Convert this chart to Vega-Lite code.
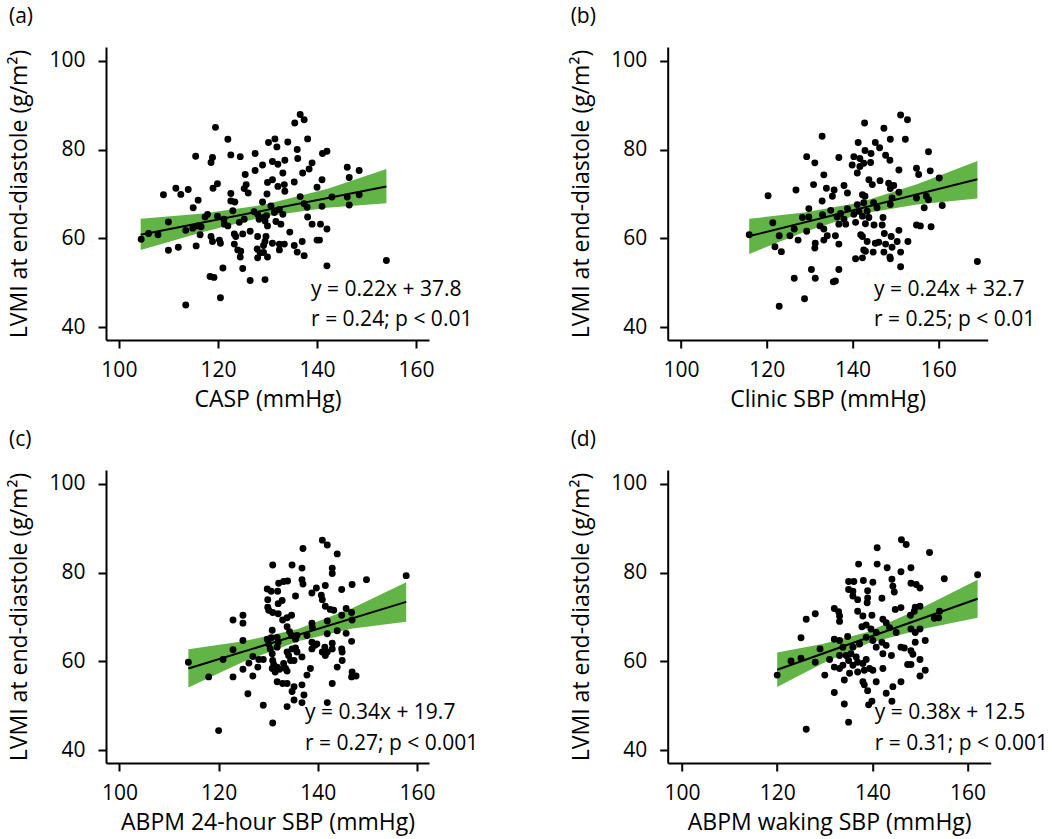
{
"$schema": "https://vega.github.io/schema/vega-lite/v6.json",
"background": "white",
"padding": {"left": 8, "top": 6, "right": 5, "bottom": 2},
"config": {
 "font": "Open Sans",
 "view": {"stroke": null},
 "axis": {"grid": false, "domainColor": "black", "domainWidth": 2, "tickColor": "black", "tickWidth": 2, "tickSize": 8, "labelFontSize": 21, "labelColor": "black", "labelFont": "Open Sans", "labelFlush": false, "labelOverlap": false, "titleFontSize": 23, "titleFontWeight": "normal", "titleColor": "black", "titleFont": "Open Sans"},
 "axisX": {"labelPadding": 11, "titlePadding": 8},
 "axisY": {"labelPadding": 13, "titlePadding": 17},
 "title": {"fontSize": 21, "fontWeight": "normal", "color": "black", "anchor": "start", "frame": "bounds", "offset": 20, "font": "Open Sans"}
},
"datasets": {
 "a_pts": [
{"x":119.5,"y":85.0},{"x":122.0,"y":82.3},{"x":130.2,"y":81.6},{"x":115.5,"y":78.5},{"x":118.9,"y":78.2},{"x":118.6,"y":77.1},{"x":122.6,"y":78.8},{"x":124.5,"y":78.4},{"x":127.5,"y":79.1},{"x":129.0,"y":76.5},{"x":127.5,"y":75.3},{"x":125.5,"y":74.4},{"x":130.0,"y":72.6},{"x":119.9,"y":72.3},{"x":119.0,"y":71.3},{"x":125.7,"y":72.1},{"x":125.3,"y":71.2},{"x":122.6,"y":70.1},{"x":111.5,"y":71.3},{"x":112.5,"y":69.9},{"x":114.0,"y":71.0},{"x":109.0,"y":69.8},{"x":116.0,"y":68.6},{"x":115.0,"y":66.9},{"x":122.6,"y":68.4},{"x":123.4,"y":68.2},{"x":129.0,"y":68.2},{"x":117.9,"y":65.4},{"x":117.4,"y":64.8},{"x":119.9,"y":65.0},{"x":123.0,"y":66.2},{"x":121.2,"y":64.3},{"x":121.3,"y":63.2},{"x":122.0,"y":62.8},{"x":125.3,"y":64.3},{"x":124.3,"y":63.6},{"x":110.0,"y":63.7},{"x":116.6,"y":62.6},{"x":115.9,"y":62.8},{"x":114.9,"y":62.3},{"x":113.5,"y":61.8},{"x":106.0,"y":61.1},{"x":107.9,"y":60.8},{"x":104.5,"y":59.8},{"x":116.4,"y":60.8},{"x":118.6,"y":60.4},{"x":118.9,"y":59.3},{"x":120.3,"y":59.6},{"x":120.5,"y":58.9},{"x":123.3,"y":61.0},{"x":123.6,"y":60.4},{"x":125.0,"y":61.0},{"x":126.5,"y":61.6},{"x":128.0,"y":60.4},{"x":129.7,"y":60.4},{"x":123.3,"y":58.7},{"x":129.5,"y":59.3},{"x":129.2,"y":58.4},{"x":124.0,"y":57.4},{"x":124.6,"y":57.1},{"x":127.9,"y":57.6},{"x":128.5,"y":56.7},{"x":129.2,"y":56.8},{"x":124.5,"y":55.8},{"x":128.0,"y":55.6},{"x":130.0,"y":55.8},{"x":110.0,"y":57.3},{"x":112.0,"y":58.0},{"x":115.6,"y":58.3},{"x":125.0,"y":53.2},{"x":121.0,"y":53.3},{"x":118.4,"y":51.4},{"x":119.2,"y":51.2},{"x":126.5,"y":50.5},{"x":129.5,"y":50.7},{"x":120.5,"y":46.6},{"x":113.5,"y":45.0},{"x":127.3,"y":66.0},{"x":128.0,"y":65.4},{"x":128.3,"y":64.3},{"x":129.2,"y":64.7},{"x":129.8,"y":65.1},{"x":130.0,"y":62.8},{"x":129.5,"y":63.9},{"x":126.1,"y":70.2},{"x":129.9,"y":70.0},
{"x":136.6,"y":87.9},{"x":137.4,"y":86.7},{"x":135.5,"y":86.0},{"x":131.5,"y":82.4},{"x":131.9,"y":80.6},{"x":134.1,"y":81.7},{"x":136.0,"y":80.0},{"x":138.1,"y":82.4},{"x":131.0,"y":77.3},{"x":132.1,"y":76.7},{"x":133.5,"y":77.6},{"x":136.1,"y":78.0},{"x":141.1,"y":79.1},{"x":142.0,"y":79.6},{"x":139.0,"y":77.0},{"x":138.4,"y":75.6},{"x":137.1,"y":74.7},{"x":133.1,"y":74.7},{"x":146.1,"y":76.0},{"x":148.5,"y":75.3},{"x":146.5,"y":73.7},{"x":141.0,"y":73.2},{"x":135.4,"y":72.7},{"x":131.0,"y":73.2},{"x":132.1,"y":71.7},{"x":133.4,"y":72.1},{"x":133.5,"y":70.6},{"x":140.0,"y":71.5},{"x":136.6,"y":69.4},{"x":143.0,"y":69.3},{"x":146.1,"y":69.3},{"x":148.5,"y":69.8},{"x":146.5,"y":67.5},{"x":141.0,"y":67.2},{"x":137.4,"y":67.8},{"x":138.0,"y":67.0},{"x":130.7,"y":67.3},{"x":131.4,"y":65.8},{"x":132.4,"y":66.5},{"x":133.1,"y":65.4},{"x":132.7,"y":63.2},{"x":131.7,"y":63.8},{"x":138.1,"y":64.8},{"x":139.0,"y":63.2},{"x":140.7,"y":63.2},{"x":142.0,"y":62.1},{"x":134.5,"y":61.4},{"x":131.0,"y":58.9},{"x":132.4,"y":58.7},{"x":133.4,"y":58.7},{"x":135.4,"y":58.4},{"x":137.0,"y":59.3},{"x":140.0,"y":59.6},{"x":140.5,"y":59.6},{"x":132.4,"y":57.4},{"x":136.0,"y":56.9},{"x":137.4,"y":56.1},{"x":142.0,"y":53.8},{"x":154.0,"y":55.0}
 ],
 "a_fit": [{"x":104.4,"y":60.8},{"x":154.0,"y":71.7}],
 "a_band": [{"x":104.4,"lo":57.4,"hi":64.4},{"x":117.0,"lo":61.4,"hi":65.6},{"x":129.5,"lo":64.9,"hi":67.6},{"x":142.0,"lo":66.9,"hi":71.1},{"x":154.0,"lo":67.9,"hi":75.6}],
 "b_pts": [
{"x":132.9,"y":83.0},{"x":129.3,"y":78.4},{"x":131.2,"y":77.0},{"x":133.3,"y":74.3},{"x":130.9,"y":72.1},{"x":133.9,"y":71.3},{"x":120.3,"y":69.6},{"x":126.8,"y":70.9},{"x":132.9,"y":68.4},{"x":129.8,"y":66.7},{"x":121.4,"y":63.5},{"x":128.3,"y":64.7},{"x":129.8,"y":64.8},{"x":133.0,"y":65.3},{"x":132.4,"y":62.8},{"x":133.3,"y":62.1},{"x":126.4,"y":62.1},{"x":125.4,"y":60.6},{"x":127.3,"y":59.6},{"x":129.3,"y":61.6},{"x":122.9,"y":60.6},{"x":115.9,"y":60.8},{"x":121.9,"y":58.1},{"x":123.4,"y":57.0},{"x":131.3,"y":58.9},{"x":131.2,"y":57.8},{"x":133.3,"y":59.6},{"x":130.4,"y":53.0},{"x":131.3,"y":51.0},{"x":126.4,"y":51.0},{"x":128.8,"y":46.4},{"x":122.9,"y":44.7},
{"x":151.2,"y":87.8},{"x":152.8,"y":86.7},{"x":142.8,"y":86.0},{"x":147.3,"y":84.8},{"x":141.3,"y":81.6},{"x":145.3,"y":81.6},{"x":146.3,"y":80.4},{"x":148.8,"y":82.3},{"x":152.3,"y":82.3},{"x":142.9,"y":79.8},{"x":144.3,"y":79.1},{"x":147.7,"y":78.7},{"x":148.7,"y":77.6},{"x":157.7,"y":79.5},{"x":136.8,"y":78.2},{"x":140.3,"y":78.4},{"x":141.7,"y":78.0},{"x":144.2,"y":77.1},{"x":139.9,"y":76.5},{"x":141.7,"y":76.2},{"x":141.1,"y":74.7},{"x":142.6,"y":76.9},{"x":150.8,"y":75.4},{"x":154.9,"y":75.8},{"x":155.4,"y":74.4},{"x":158.1,"y":75.2},{"x":160.2,"y":73.6},{"x":143.8,"y":73.2},{"x":144.6,"y":72.1},{"x":146.4,"y":73.0},{"x":148.4,"y":72.4},{"x":149.6,"y":71.9},{"x":148.8,"y":71.2},{"x":135.7,"y":70.9},{"x":135.3,"y":69.5},{"x":138.0,"y":71.9},{"x":138.8,"y":70.2},{"x":142.3,"y":69.8},{"x":142.9,"y":69.5},{"x":150.8,"y":70.4},{"x":149.2,"y":69.1},{"x":154.9,"y":69.1},{"x":157.2,"y":69.5},{"x":157.7,"y":68.7},{"x":160.9,"y":67.4},{"x":156.7,"y":66.9},{"x":134.9,"y":66.3},{"x":137.2,"y":65.6},{"x":138.8,"y":66.7},{"x":136.4,"y":64.8},{"x":138.0,"y":64.3},{"x":141.1,"y":67.6},{"x":142.6,"y":68.0},{"x":144.9,"y":68.0},{"x":145.7,"y":66.9},{"x":148.8,"y":67.6},{"x":143.4,"y":66.1},{"x":141.5,"y":66.1},{"x":140.3,"y":65.4},{"x":142.3,"y":65.0},{"x":143.8,"y":64.7},{"x":140.7,"y":63.6},{"x":143.0,"y":63.3},{"x":147.1,"y":64.7},{"x":145.0,"y":63.0},{"x":146.9,"y":63.0},{"x":136.8,"y":63.2},{"x":138.4,"y":63.2},{"x":134.1,"y":60.6},{"x":136.0,"y":60.6},{"x":136.8,"y":58.7},{"x":141.9,"y":60.8},{"x":142.3,"y":60.4},{"x":143.4,"y":59.3},{"x":145.3,"y":58.9},{"x":146.1,"y":59.1},{"x":147.4,"y":61.1},{"x":150.8,"y":61.8},{"x":149.0,"y":60.4},{"x":147.7,"y":58.7},{"x":150.4,"y":59.3},{"x":152.9,"y":59.3},{"x":155.8,"y":62.8},{"x":154.9,"y":63.0},{"x":158.3,"y":62.6},{"x":142.6,"y":57.4},{"x":143.0,"y":57.1},{"x":144.8,"y":56.9},{"x":147.3,"y":56.9},{"x":149.2,"y":58.0},{"x":148.7,"y":55.8},{"x":151.2,"y":56.9},{"x":140.7,"y":55.4},{"x":142.3,"y":55.6},{"x":148.8,"y":55.4},{"x":151.2,"y":53.6},{"x":169.1,"y":54.8},{"x":136.8,"y":53.0},{"x":136.0,"y":50.4},{"x":135.5,"y":50.2}
 ],
 "b_fit": [{"x":115.9,"y":60.5},{"x":169.1,"y":73.3}],
 "b_band": [{"x":115.9,"lo":56.5,"hi":64.4},{"x":128.7,"lo":61.4,"hi":65.8},{"x":141.5,"lo":65.4,"hi":68.0},{"x":155.0,"lo":67.6,"hi":72.2},{"x":169.1,"lo":69.0,"hi":77.4}],
 "c_pts": [
{"x":130.9,"y":81.7},{"x":134.8,"y":81.7},{"x":132.1,"y":77.6},{"x":133.1,"y":78.0},{"x":133.9,"y":78.1},{"x":129.8,"y":76.3},{"x":130.6,"y":75.8},{"x":131.9,"y":75.8},{"x":129.9,"y":73.9},{"x":132.0,"y":73.0},{"x":132.8,"y":73.7},{"x":129.9,"y":72.2},{"x":130.1,"y":71.5},{"x":130.9,"y":71.0},{"x":132.0,"y":70.7},{"x":133.8,"y":69.8},{"x":134.7,"y":70.4},{"x":132.9,"y":69.3},{"x":122.9,"y":69.3},{"x":124.9,"y":70.4},{"x":124.9,"y":68.6},{"x":130.8,"y":67.0},{"x":133.8,"y":67.8},{"x":134.3,"y":66.7},{"x":134.7,"y":65.8},{"x":129.8,"y":65.0},{"x":130.6,"y":65.3},{"x":131.8,"y":65.4},{"x":130.1,"y":63.9},{"x":132.0,"y":64.3},{"x":130.4,"y":62.8},{"x":131.8,"y":63.2},{"x":124.9,"y":64.7},{"x":122.9,"y":62.6},{"x":120.9,"y":60.4},{"x":113.9,"y":59.8},{"x":126.9,"y":61.1},{"x":126.1,"y":59.6},{"x":128.1,"y":60.4},{"x":129.0,"y":60.4},{"x":127.9,"y":58.7},{"x":126.9,"y":56.7},{"x":124.9,"y":58.2},{"x":122.9,"y":56.5},{"x":118.0,"y":56.5},{"x":130.8,"y":61.7},{"x":130.9,"y":60.2},{"x":131.1,"y":59.3},{"x":131.8,"y":58.7},{"x":130.8,"y":58.4},{"x":132.3,"y":58.2},{"x":131.4,"y":57.6},{"x":133.1,"y":59.5},{"x":133.5,"y":58.4},{"x":133.8,"y":57.8},{"x":134.5,"y":60.2},{"x":134.1,"y":61.3},{"x":133.8,"y":62.1},{"x":134.8,"y":62.8},{"x":131.8,"y":55.4},{"x":132.9,"y":55.0},{"x":133.8,"y":55.0},{"x":125.9,"y":52.7},{"x":129.0,"y":50.1},{"x":133.8,"y":49.8},{"x":130.9,"y":46.1},{"x":120.0,"y":44.4},
{"x":140.9,"y":87.3},{"x":141.9,"y":86.2},{"x":137.0,"y":85.4},{"x":143.9,"y":84.2},{"x":136.8,"y":81.0},{"x":142.9,"y":81.0},{"x":142.9,"y":79.8},{"x":136.8,"y":78.4},{"x":137.0,"y":77.4},{"x":149.8,"y":78.4},{"x":146.9,"y":77.3},{"x":144.8,"y":76.2},{"x":141.5,"y":77.1},{"x":139.7,"y":76.5},{"x":138.8,"y":75.4},{"x":135.5,"y":74.7},{"x":157.8,"y":79.3},{"x":140.7,"y":74.9},{"x":140.9,"y":73.9},{"x":141.5,"y":72.4},{"x":142.5,"y":71.7},{"x":143.2,"y":71.5},{"x":145.7,"y":71.9},{"x":146.8,"y":71.0},{"x":146.9,"y":69.3},{"x":144.8,"y":70.4},{"x":138.8,"y":68.6},{"x":138.9,"y":67.6},{"x":141.9,"y":69.1},{"x":143.9,"y":66.9},{"x":145.7,"y":66.3},{"x":146.8,"y":64.5},{"x":135.8,"y":65.8},{"x":137.8,"y":65.8},{"x":135.5,"y":65.0},{"x":141.9,"y":66.2},{"x":138.8,"y":64.3},{"x":139.4,"y":63.6},{"x":139.8,"y":63.9},{"x":138.8,"y":62.8},{"x":141.4,"y":63.2},{"x":141.9,"y":62.1},{"x":142.9,"y":64.1},{"x":142.9,"y":62.8},{"x":144.8,"y":62.8},{"x":144.9,"y":62.1},{"x":135.5,"y":63.0},{"x":135.8,"y":62.1},{"x":136.8,"y":61.0},{"x":135.2,"y":60.2},{"x":140.9,"y":62.1},{"x":141.5,"y":61.3},{"x":144.9,"y":60.2},{"x":143.9,"y":58.7},{"x":138.5,"y":58.4},{"x":137.8,"y":56.9},{"x":135.2,"y":54.3},{"x":136.8,"y":54.7},{"x":146.9,"y":57.6},{"x":146.8,"y":56.5},{"x":147.7,"y":56.7},{"x":142.9,"y":55.0},{"x":137.2,"y":52.4},{"x":134.8,"y":53.2},{"x":141.9,"y":50.7},{"x":136.8,"y":50.7},{"x":135.2,"y":51.3}
 ],
 "c_fit": [{"x":113.9,"y":58.4},{"x":157.8,"y":73.4}],
 "c_band": [{"x":113.9,"lo":54.1,"hi":62.7},{"x":125.0,"lo":59.9,"hi":64.5},{"x":136.0,"lo":64.5,"hi":67.3},{"x":147.0,"lo":67.4,"hi":72.0},{"x":157.8,"lo":68.9,"hi":77.8}],
 "d_pts": [
{"x":132.0,"y":71.9},{"x":132.9,"y":71.2},{"x":128.0,"y":70.7},{"x":126.1,"y":69.5},{"x":133.1,"y":69.0},{"x":125.0,"y":65.3},{"x":132.0,"y":65.0},{"x":133.1,"y":64.7},{"x":129.0,"y":62.8},{"x":133.1,"y":61.3},{"x":122.9,"y":60.1},{"x":125.0,"y":60.7},{"x":128.0,"y":59.8},{"x":131.0,"y":60.4},{"x":132.0,"y":58.7},{"x":133.1,"y":58.4},{"x":120.0,"y":56.9},{"x":130.0,"y":56.9},{"x":132.0,"y":53.0},{"x":126.1,"y":44.7},
{"x":146.1,"y":87.4},{"x":147.1,"y":86.3},{"x":141.0,"y":85.6},{"x":152.0,"y":84.5},{"x":137.1,"y":81.9},{"x":141.0,"y":81.9},{"x":143.1,"y":81.1},{"x":146.0,"y":80.2},{"x":148.1,"y":81.1},{"x":155.1,"y":78.6},{"x":162.1,"y":79.5},{"x":135.0,"y":78.0},{"x":136.1,"y":78.0},{"x":138.1,"y":78.2},{"x":140.1,"y":77.8},{"x":144.1,"y":78.5},{"x":135.0,"y":76.2},{"x":135.9,"y":75.8},{"x":139.0,"y":75.9},{"x":144.3,"y":76.9},{"x":144.6,"y":75.6},{"x":148.1,"y":77.6},{"x":150.0,"y":76.5},{"x":149.2,"y":77.3},{"x":135.9,"y":74.7},{"x":136.9,"y":73.9},{"x":139.0,"y":74.3},{"x":138.9,"y":73.2},{"x":142.0,"y":74.2},{"x":144.8,"y":71.7},{"x":146.0,"y":72.1},{"x":149.0,"y":72.2},{"x":150.0,"y":72.4},{"x":148.8,"y":71.3},{"x":148.0,"y":70.4},{"x":154.1,"y":71.3},{"x":153.9,"y":69.8},{"x":153.0,"y":69.7},{"x":133.1,"y":70.2},{"x":136.9,"y":71.3},{"x":138.0,"y":70.2},{"x":139.9,"y":70.4},{"x":138.7,"y":68.2},{"x":137.8,"y":67.8},{"x":139.7,"y":67.3},{"x":140.8,"y":66.5},{"x":142.2,"y":69.5},{"x":142.9,"y":68.7},{"x":143.6,"y":67.6},{"x":145.0,"y":66.5},{"x":148.1,"y":67.3},{"x":149.0,"y":66.5},{"x":150.0,"y":67.3},{"x":151.1,"y":64.7},{"x":149.0,"y":64.3},{"x":146.0,"y":63.2},{"x":146.7,"y":63.0},{"x":148.1,"y":62.4},{"x":148.5,"y":61.6},{"x":150.0,"y":60.4},{"x":134.8,"y":65.6},{"x":133.8,"y":63.2},{"x":135.9,"y":63.2},{"x":137.3,"y":63.9},{"x":138.7,"y":65.4},{"x":140.1,"y":64.7},{"x":140.8,"y":63.2},{"x":142.0,"y":64.3},{"x":142.9,"y":63.6},{"x":144.0,"y":61.3},{"x":142.2,"y":61.7},{"x":134.5,"y":61.3},{"x":135.5,"y":61.7},{"x":135.0,"y":60.2},{"x":136.6,"y":61.0},{"x":136.9,"y":59.8},{"x":135.9,"y":59.1},{"x":133.8,"y":59.1},{"x":138.0,"y":59.5},{"x":138.7,"y":60.4},{"x":139.4,"y":58.4},{"x":140.1,"y":58.0},{"x":142.2,"y":58.4},{"x":135.2,"y":57.3},{"x":136.9,"y":57.6},{"x":138.3,"y":58.0},{"x":134.1,"y":55.8},{"x":140.8,"y":55.4},{"x":147.4,"y":59.3},{"x":148.1,"y":59.3},{"x":151.1,"y":58.0},{"x":150.0,"y":56.7},{"x":146.0,"y":55.4},{"x":144.3,"y":54.3},{"x":138.0,"y":55.4},{"x":138.3,"y":54.7},{"x":139.0,"y":53.4},{"x":142.9,"y":52.8},{"x":144.1,"y":51.0},{"x":139.9,"y":51.0},{"x":139.2,"y":50.2},{"x":134.1,"y":50.4},{"x":135.0,"y":46.3}
 ],
 "d_fit": [{"x":120.0,"y":58.1},{"x":162.1,"y":74.1}],
 "d_band": [{"x":120.0,"lo":54.2,"hi":62.0},{"x":129.5,"lo":59.5,"hi":63.9},{"x":139.0,"lo":64.0,"hi":66.6},{"x":150.5,"lo":67.3,"hi":72.1},{"x":162.1,"lo":69.8,"hi":78.4}]
},
"columns": 2,
"bounds": "flush",
"spacing": {"row": 130, "column": 238.7},
"concat": [
 {
  "width": 323, "height": 293,
  "title": {"text": "(a)"},
  "layer": [
   {"data": {"name": "a_band"}, "mark": {"type": "area", "color": "#63b446", "opacity": 1},
    "encoding": {"x": {"field": "x", "type": "quantitative", "scale": {"domain": [97.4, 162.6], "nice": false, "zero": false}, "axis": {"values": [100, 120, 140, 160], "title": "CASP (mmHg)"}},
                 "y": {"field": "lo", "type": "quantitative", "scale": {"domain": [37.1, 103.1], "nice": false, "zero": false}, "axis": {"values": [40, 60, 80, 100], "title": "LVMI at end-diastole (g/m²)"}},
                 "y2": {"field": "hi"}}},
   {"data": {"name": "a_pts"}, "mark": {"type": "circle", "size": 48, "color": "black", "opacity": 1},
    "encoding": {"x": {"field": "x", "type": "quantitative"}, "y": {"field": "y", "type": "quantitative"}}},
   {"data": {"name": "a_fit"}, "mark": {"type": "line", "color": "black", "strokeWidth": 2},
    "encoding": {"x": {"field": "x", "type": "quantitative"}, "y": {"field": "y", "type": "quantitative"}}},
   {"data": {"values": [{}]}, "mark": {"type": "text", "align": "left", "baseline": "middle", "fontSize": 21},
    "encoding": {"x": {"datum": 138.8}, "y": {"datum": 48.4}, "text": {"value": "y = 0.22x + 37.8"}}},
   {"data": {"values": [{}]}, "mark": {"type": "text", "align": "left", "baseline": "middle", "fontSize": 21},
    "encoding": {"x": {"datum": 138.8}, "y": {"datum": 41.6}, "text": {"value": "r = 0.24; p < 0.01"}}}
  ]
 },
 {
  "width": 320, "height": 293,
  "title": {"text": "(b)"},
  "layer": [
   {"data": {"name": "b_band"}, "mark": {"type": "area", "color": "#63b446", "opacity": 1},
    "encoding": {"x": {"field": "x", "type": "quantitative", "scale": {"domain": [96.9, 171.5], "nice": false, "zero": false}, "axis": {"values": [100, 120, 140, 160], "title": "Clinic SBP (mmHg)"}},
                 "y": {"field": "lo", "type": "quantitative", "scale": {"domain": [37.1, 103.1], "nice": false, "zero": false}, "axis": {"values": [40, 60, 80, 100], "title": "LVMI at end-diastole (g/m²)"}},
                 "y2": {"field": "hi"}}},
   {"data": {"name": "b_pts"}, "mark": {"type": "circle", "size": 48, "color": "black", "opacity": 1},
    "encoding": {"x": {"field": "x", "type": "quantitative"}, "y": {"field": "y", "type": "quantitative"}}},
   {"data": {"name": "b_fit"}, "mark": {"type": "line", "color": "black", "strokeWidth": 2},
    "encoding": {"x": {"field": "x", "type": "quantitative"}, "y": {"field": "y", "type": "quantitative"}}},
   {"data": {"values": [{}]}, "mark": {"type": "text", "align": "left", "baseline": "middle", "fontSize": 21},
    "encoding": {"x": {"datum": 145.0}, "y": {"datum": 48.4}, "text": {"value": "y = 0.24x + 32.7"}}},
   {"data": {"values": [{}]}, "mark": {"type": "text", "align": "left", "baseline": "middle", "fontSize": 21},
    "encoding": {"x": {"datum": 145.0}, "y": {"datum": 41.6}, "text": {"value": "r = 0.25; p < 0.01"}}}
  ]
 },
 {
  "width": 323, "height": 293,
  "title": {"text": "(c)"},
  "layer": [
   {"data": {"name": "c_band"}, "mark": {"type": "area", "color": "#63b446", "opacity": 1},
    "encoding": {"x": {"field": "x", "type": "quantitative", "scale": {"domain": [97.3, 162.4], "nice": false, "zero": false}, "axis": {"values": [100, 120, 140, 160], "title": "ABPM 24-hour SBP (mmHg)"}},
                 "y": {"field": "lo", "type": "quantitative", "scale": {"domain": [37.1, 103.1], "nice": false, "zero": false}, "axis": {"values": [40, 60, 80, 100], "title": "LVMI at end-diastole (g/m²)"}},
                 "y2": {"field": "hi"}}},
   {"data": {"name": "c_pts"}, "mark": {"type": "circle", "size": 48, "color": "black", "opacity": 1},
    "encoding": {"x": {"field": "x", "type": "quantitative"}, "y": {"field": "y", "type": "quantitative"}}},
   {"data": {"name": "c_fit"}, "mark": {"type": "line", "color": "black", "strokeWidth": 2},
    "encoding": {"x": {"field": "x", "type": "quantitative"}, "y": {"field": "y", "type": "quantitative"}}},
   {"data": {"values": [{}]}, "mark": {"type": "text", "align": "left", "baseline": "middle", "fontSize": 21},
    "encoding": {"x": {"datum": 137.4}, "y": {"datum": 48.3}, "text": {"value": "y = 0.34x + 19.7"}}},
   {"data": {"values": [{}]}, "mark": {"type": "text", "align": "left", "baseline": "middle", "fontSize": 21},
    "encoding": {"x": {"datum": 137.4}, "y": {"datum": 41.4}, "text": {"value": "r = 0.27; p < 0.001"}}}
  ]
 },
 {
  "width": 323, "height": 293,
  "title": {"text": "(d)"},
  "layer": [
   {"data": {"name": "d_band"}, "mark": {"type": "area", "color": "#63b446", "opacity": 1},
    "encoding": {"x": {"field": "x", "type": "quantitative", "scale": {"domain": [97.0, 164.85], "nice": false, "zero": false}, "axis": {"values": [100, 120, 140, 160], "title": "ABPM waking SBP (mmHg)"}},
                 "y": {"field": "lo", "type": "quantitative", "scale": {"domain": [37.1, 103.1], "nice": false, "zero": false}, "axis": {"values": [40, 60, 80, 100], "title": "LVMI at end-diastole (g/m²)"}},
                 "y2": {"field": "hi"}}},
   {"data": {"name": "d_pts"}, "mark": {"type": "circle", "size": 48, "color": "black", "opacity": 1},
    "encoding": {"x": {"field": "x", "type": "quantitative"}, "y": {"field": "y", "type": "quantitative"}}},
   {"data": {"name": "d_fit"}, "mark": {"type": "line", "color": "black", "strokeWidth": 2},
    "encoding": {"x": {"field": "x", "type": "quantitative"}, "y": {"field": "y", "type": "quantitative"}}},
   {"data": {"values": [{}]}, "mark": {"type": "text", "align": "left", "baseline": "middle", "fontSize": 21},
    "encoding": {"x": {"datum": 140.5}, "y": {"datum": 48.3}, "text": {"value": "y = 0.38x + 12.5"}}},
   {"data": {"values": [{}]}, "mark": {"type": "text", "align": "left", "baseline": "middle", "fontSize": 21},
    "encoding": {"x": {"datum": 140.5}, "y": {"datum": 41.4}, "text": {"value": "r = 0.31; p < 0.001"}}}
  ]
 }
]
}
